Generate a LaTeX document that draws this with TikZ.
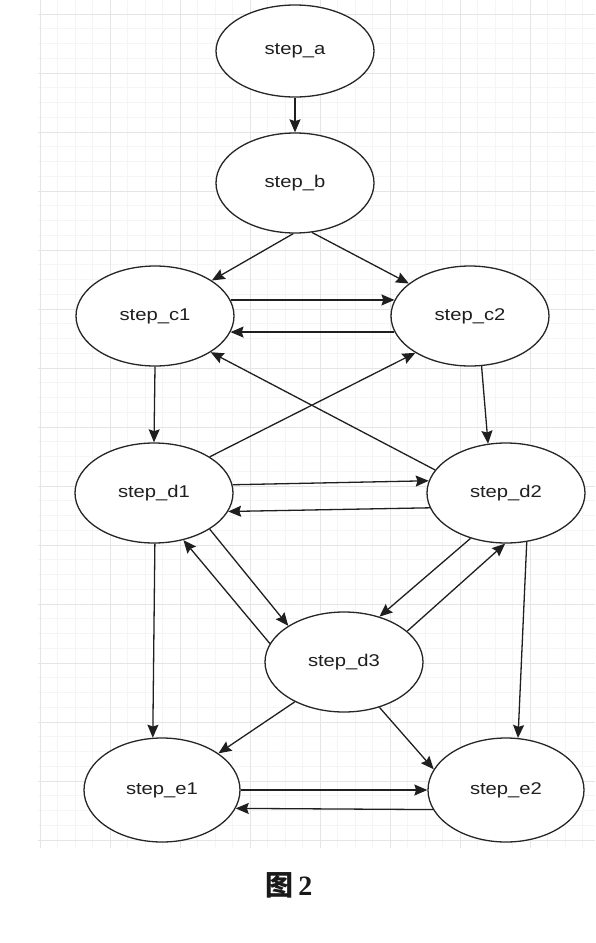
\documentclass[tikz,border=0pt]{standalone}
\usepackage{fontspec}
\setmainfont{Liberation Serif}
\newfontfamily\statefont[FakeStretch=1.19]{Liberation Sans}
\newfontfamily\cjkfont{Noto Sans CJK SC}
\usetikzlibrary{shapes.geometric,arrows.meta}

\begin{document}
\begin{tikzpicture}[
  x=1pt,y=-1pt,
  state/.style={ellipse,draw=black!85,line width=1.3pt,fill=white,minimum width=158pt,minimum height=100pt,inner sep=0pt,text=black!88,font=\statefont\fontsize{17}{19}\selectfont},
  lnk/.style={draw=black!88,line width=1.3pt,-{Stealth[length=13pt,width=11pt,inset=1.8pt]}},
  gridminor/.style={draw=black!4,line width=0.6pt},
  gridmajor/.style={draw=black!10,line width=0.8pt},
  caption/.style={font=\fontsize{28}{30}\selectfont\bfseries,text=black!90},
]
\useasboundingbox (0,0) rectangle (595,943);

\foreach \i in {0,...,31} \draw[gridminor] ({40+17.5*\i},0) -- ({40+17.5*\i},848);
\foreach \i in {0,...,56} \draw[gridminor] (38,{14+14.75*\i}) -- (595,{14+14.75*\i});
\foreach \x in {40,110,...,530} \draw[gridmajor] (\x,0) -- (\x,848);
\foreach \y in {14,73,...,840} \draw[gridmajor] (38,\y) -- (595,\y);

\node[state,minimum height=92pt] (a) at (295,51) {step\_a};
\node[state] (b) at (295,183) {step\_b};
\node[state] (c1) at (155,316) {step\_c1};
\node[state] (c2) at (470,316) {step\_c2};
\node[state] (d1) at (154,493) {step\_d1};
\node[state] (d2) at (506,493) {step\_d2};
\node[state] (d3) at (344,662) {step\_d3};
\node[state,minimum width=156pt,minimum height=104pt] (e1) at (162,790) {step\_e1};
\node[state,minimum width=156pt,minimum height=104pt] (e2) at (506,790) {step\_e2};

\draw[lnk] (a.-90) -- (b.90);
\draw[lnk] (b.-92) -- (c1.32);
\draw[lnk] (b.-71) -- (c2.152);
\draw[lnk] (c1.12) -- (c2.168);
\draw[lnk] (c2.-168) -- (c1.-12);
\draw[lnk] (d2.162) -- (c1.-33);
\draw[lnk] (d1.33) -- (c2.-146);
\draw[lnk] (c1.-90) -- (d1.90);
\draw[lnk] (c2.-77) -- (d2.110);
\draw[lnk] (d1.6) -- (d2.171);
\draw[lnk] (d2.-169) -- (d1.-14);
\draw[lnk] (d1.-33) -- (d3.147);
\draw[lnk] (d3.166) -- (d1.-58);
\draw[lnk] (d2.-128) -- (d3.52);
\draw[lnk] (d3.26) -- (d2.-91);
\draw[lnk] (d1.-89) -- (e1.100);
\draw[lnk] (d2.-67) -- (e2.77);
\draw[lnk] (d3.-141) -- (e1.33);
\draw[lnk] (d3.-52) -- (e2.164);
\draw[lnk] (e1.0) -- (e2.180);
\draw[lnk] (e2.-165) -- (e1.-14);

\node[caption] (fig) at (289,885) {{\cjkfont\bfseries 图}\,2};
\end{tikzpicture}
\end{document}
